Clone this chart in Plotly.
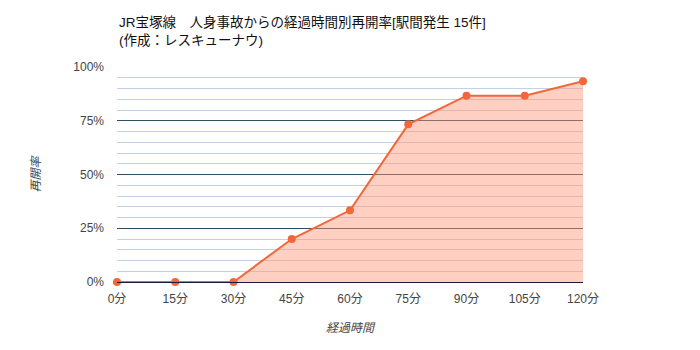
import plotly.graph_objects as go

categories = ["0分", "15分", "30分", "45分", "60分", "75分", "90分", "105分", "120分"]
rates = [0.0, 0.0, 0.0, 0.20, 0.3333, 0.7333, 0.8667, 0.8667, 0.9333]
y_ticks = [0, 0.25, 0.5, 0.75, 1.0]
y_labels = ["0%", "25%", "50%", "75%", "100%"]
title_lines = ["JR宝塚線　人身事故からの経過時間別再開率[駅間発生 15件]", "(作成：レスキューナウ)"]

font_family = "Liberation Sans, Arial, Noto Sans CJK JP, sans-serif"

fig = go.Figure()
fig.add_trace(go.Scatter(
    x=list(range(len(categories))), y=rates,
    mode="lines+markers",
    fill="tozeroy",
    fillcolor="rgba(255,150,120,0.45)",
    line=dict(color="#f2673a", width=2),
    marker=dict(color="#f2673a", size=8),
    hoverinfo="skip",
    cliponaxis=False,
))

for i, line in enumerate(title_lines):
    fig.add_annotation(
        text=line, xref="paper", yref="paper",
        x=0, y=1 + (44 - 18 * i) / 215, xanchor="left", yanchor="middle",
        showarrow=False, font=dict(size=13.5, color="#111"),
    )

fig.update_layout(
    width=700, height=350,
    margin=dict(l=117, r=117, t=67, b=68),
    paper_bgcolor="white", plot_bgcolor="white",
    showlegend=False,
    font=dict(family=font_family, size=12, color="#444"),
    xaxis=dict(
        range=[0, len(categories) - 1],
        tickvals=list(range(len(categories))), ticktext=categories,
        showgrid=False, zeroline=False,
        showline=True, linecolor="#1a1a40", linewidth=1,
        ticks="", ticklabelstandoff=6, tickfont=dict(size=12, color="#444"),
        title=dict(text="<i>経過時間</i>", font=dict(size=12, color="#444"), standoff=18),
    ),
    yaxis=dict(
        range=[0, 1.0],
        tickvals=y_ticks, ticktext=y_labels,
        showgrid=True, gridcolor="#2f4f63", gridwidth=1,
        zeroline=False,
        ticks="", ticklen=0, ticklabelstandoff=12, tickfont=dict(size=12, color="#444"),
        minor=dict(dtick=0.05, tick0=0, showgrid=True, gridcolor="#c3d1e6", gridwidth=1),
        title=dict(text="<i>再開率</i>", font=dict(size=12, color="#444"), standoff=30),
    ),
)

fig.write_html("out.html")
